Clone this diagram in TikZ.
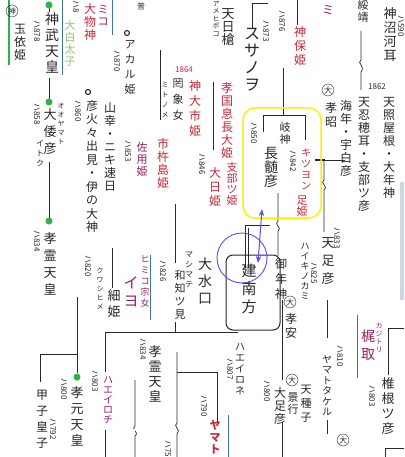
\documentclass[tikz,border=0pt]{standalone}
\usepackage{fontspec}
\setmainfont{Noto Sans CJK JP}
\usetikzlibrary{arrows.meta}
\definecolor{ink}{RGB}{40,40,45}
\definecolor{redink}{RGB}{200,40,60}
\definecolor{magink}{RGB}{150,30,100}
\definecolor{grn}{RGB}{45,180,70}
\definecolor{lgrn}{RGB}{140,200,110}
\definecolor{blu}{RGB}{80,80,255}
\definecolor{tealc}{RGB}{60,120,150}
\definecolor{yel}{RGB}{255,240,0}
\definecolor{strip}{RGB}{205,215,228}
\makeatletter
\newcommand\vt[3]{{\fontsize{#1}{#2}\selectfont\vbox{\baselineskip=#2pt\lineskiplimit=-\maxdimen\@tfor\vt@c:=#3\do{\hbox to #1pt{\hss\vt@c\hss}}}}}
\makeatother
\tikzset{
 ln/.style={draw=ink, line width=0.7pt},
 dbl/.style={draw=ink, double=white, double distance=1.1pt, line width=0.5pt},
 vtx/.style={anchor=north, inner sep=0pt, text=ink},
 num/.style={rotate=-90, anchor=west, inner sep=0pt, font=\fontsize{8}{8}\selectfont, text=ink},
 gdot/.style={circle, fill=grn, inner sep=0pt, minimum size=7pt},
 ring/.style={circle, draw=ink, line width=1.1pt, inner sep=0pt, minimum size=5pt},
 circ/.style={circle, draw=ink, inner sep=0.4pt, font=\fontsize{8}{8}\selectfont, text=ink},
}
\begin{document}
\begin{tikzpicture}[x=1pt,y=-1pt]
\useasboundingbox (0,0) rectangle (404,457);
\fill[white] (0,0) rectangle (404,457);
\fill[strip] (400,182) rectangle (404,300);

% ---------- coloured lines ----------
\draw[grn, line width=1.6pt] (9,0) -- (9,65);
\draw[tealc, line width=1pt] (62,0) -- (62,75);
\draw[tealc, line width=1pt] (112,0) -- (112,35);
\draw[tealc, line width=1pt] (150,255) -- (150,320);
\draw[tealc, line width=1pt] (228,415) -- (228,457);
\draw[tealc, line width=1pt] (357,315) -- (357,378);

% ---------- black lines ----------
\draw[ln] (49,8) -- (49,12);
\draw[ln] (49,78) -- (49,100);
\draw[ln] (49,162) -- (49,218);
\draw[dbl] (55,297) -- (104,297);
\draw[ln] (77,297) -- (77,373);
\draw[ln] (77,354) -- (40,354) -- (40,382);
\draw[ln] (105,372) -- (105,332) -- (238,332);
\draw[dbl] (117,380) -- (140,380);
\draw[ln] (135,380) -- (135,426) .. controls (130,429) and (140,432) .. (135,436) -- (135,457);
\draw[dbl] (87,430) -- (215,430);
\draw[ln] (105,430) -- (105,457);
\draw[dbl] (163,352) -- (230,352);
\draw[ln] (177,352) -- (177,423) .. controls (172,426) and (182,430) .. (177,434) -- (177,457);
\draw[ln] (177,372) -- (217,372) -- (217,425);
\draw[dbl] (112,248) -- (245,248);
\draw[ln] (112,248) -- (112,288);
\draw[ln] (175,203) -- (175,263);
\draw[ln] (175,322) -- (175,332);
\draw[dbl] (98,203) -- (205,203);
\draw[dbl] (198,82) -- (245,82);
\draw[ln] (213,82) -- (213,150);
\draw[dbl] (137,48) -- (240,48);
\draw[ln] (160,50) -- (160,120);
\draw[ln] (252,28) -- (252,3) -- (268,3);
\draw[dbl] (258,68) -- (404,68);
\draw[ln] (283,68) -- (283,115);
\draw[ln] (263,132) -- (263,115) -- (305,115) -- (305,140);
\draw[ln] (297,0) -- (297,25);
\draw[dbl] (308,31) -- (380,31);
\draw[ln] (361,31) -- (361,60) .. controls (356,63) and (366,66) .. (361,72) -- (361,90);
\draw[dbl] (245,193) -- (353,193);
\draw[ln] (278,193) -- (278,221) .. controls (273,224) and (283,228) .. (278,231) -- (278,256);
\draw[ln] (324,160) -- (324,180) .. controls (319,183) and (329,186) .. (324,190) -- (324,232);
\draw[ln] (315,160) -- (345,160);
\draw[ink, line width=2pt] (315,160) -- (325,160);
\draw[ln] (270,225) -- (245,225) -- (245,268);
\draw[ln] (248,228) -- (248,268);
\draw[ln] (282,300) -- (282,380);
\draw[ln] (282,422) -- (282,457);
\draw[ln] (327,300) -- (327,338);
\draw[ln] (327,420) -- (327,434);
\draw[ln] (388,375) -- (388,328) -- (404,328);
\draw[ln] (385,457) -- (385,448) -- (404,448);

% ---------- boxes and marks ----------
\draw[yel, line width=1.5pt, rounded corners=12pt] (243,108) rectangle (321,218);
\draw[ink, line width=1pt, rounded corners=7pt] (226,255) rectangle (280,330);
\draw[blu, line width=0.9pt] (242,258) circle (25);
\draw[blu, line width=1pt, {Stealth[length=7pt]}-{Stealth[length=7pt]}] (262,209) -- (258,263);

% ---------- green dots and rings ----------
\node[gdot] (d1) at (49,5) {};
\node[gdot] (d2) at (49,102) {};
\node[gdot] (d3) at (49,221) {};
\node[gdot] (d4) at (77,377) {};
\node[ring] (r1) at (127,33) {};
\node[ring] (r2) at (88,92) {};

% ---------- top left ----------
\node[circ] (c1) at (12,11) {神};
\node[vtx] (tamayori) at (20,24) {\vt{12}{13}{玉依姫}};
\node[vtx] (jinmu) at (52,13) {\vt{14}{16}{神武天皇}};
\node[num] (n878) at (37,20) {ハ878};
\node[vtx, text=lgrn] (ohshira) at (70,20) {\vt{11}{12}{大白太子}};
\node[num] (n8) at (76,0) {ハ8};
\node[vtx, text=redink] (omono) at (90,3) {\vt{12}{13}{大物神}};
\node[vtx, text=magink] (miko) at (103,5) {\vt{11}{12}{ミコ}};
\node[vtx] (fu) at (141,3) {\vt{8}{9}{普}};
\node[vtx] (akaru) at (130,40) {\vt{11}{15}{アカル姫}};
\node[num] (n870) at (117,50) {ハ870};
\node[num] (n860) at (78,100) {ハ860};
\node[vtx] (hiko) at (92,100) {\vt{12}{13.5}{彦火々出見・伊の大神}};
\node[vtx] (yama) at (110,102) {\vt{12}{13}{山幸・ニキ速日}};
\node[vtx] (yamato1) at (50,108) {\vt{13}{17}{大倭彦}};
\node[vtx] (oyamato) at (61,103) {\vt{7}{9}{オオヤマト}};
\node[num] (n858) at (37,103) {ハ858};
\node[vtx] (itoku) at (40,140) {\vt{8}{10}{イトク}};
\node[num] (n834a) at (37,230) {ハ834};
\node[vtx] (korei1) at (50,232) {\vt{13}{17}{孝霊天皇}};

% ---------- upper middle ----------
\node[vtx] (mitonome) at (165,82) {\vt{7}{10}{ミトノメ}};
\node[font=\fontsize{8}{8}\selectfont, text=redink, inner sep=0pt] (y1864) at (184,70) {1864};
\node[vtx] (mitsuha) at (178,79) {\vt{11}{16}{罔象女}};
\node[vtx, text=redink] (kamuo) at (195,80) {\vt{12}{15}{神大市姫}};
\node[vtx, text=redink] (kokoku) at (227,82) {\vt{12}{13}{孝国息長大姫}};
\node[vtx, text=redink] (shibe) at (232,162) {\vt{11}{11}{支部ツ姫}};
\node[num] (n846) at (202,153) {ハ846};
\node[vtx, text=redink] (ohhi) at (215,167) {\vt{12}{14}{大日姫}};
\node[vtx, text=redink] (ichiki) at (163,138) {\vt{12}{13}{市杵島姫}};
\node[vtx, text=magink] (sayo) at (142,142) {\vt{11}{12}{佐用姫}};
\node[num] (n853) at (128,140) {ハ853};
\node[vtx] (amenohi) at (228,8) {\vt{13}{13}{天日槍}};
\node[vtx] (amehiboko) at (216,1) {\vt{7}{7.5}{アメヒボコ}};
\node[vtx] (susa) at (252,28) {\vt{16}{17}{スサノヲ}};

% ---------- upper right ----------
\node[num] (n873) at (266,20) {ハ873};
\node[num] (n876) at (282,10) {ハ876};
\node[vtx, text=redink] (kamuho) at (300,26) {\vt{12}{14}{神保姫}};
\node[vtx, text=magink] (mi) at (328,5) {\vt{12}{12}{ミ}};
\node[vtx] (suizei) at (363,0) {\vt{11}{12}{綏靖}};
\node[vtx] (kamununa) at (390,7) {\vt{13}{14}{神沼河耳}};
\node[num] (n590) at (401,15) {ハ590};
\node[circ] (c2) at (328,90) {大};
\node[vtx] (kosho) at (331,102) {\vt{12}{14}{孝昭}};
\node[font=\fontsize{8}{8}\selectfont, inner sep=0pt, text=ink] (y1862) at (377,87) {1862};
\node[vtx] (umi) at (346,100) {\vt{12}{13}{海年・宇白彦}};
\node[vtx] (oshiho) at (364,97) {\vt{12}{13}{天忍穂耳・支部ツ彦}};
\node[vtx] (teru) at (389,97) {\vt{12}{13}{天照屋根・大年神}};

% ---------- inside yellow box ----------
\node[vtx] (funado) at (285,122) {\vt{11}{12}{岐神}};
\node[vtx] (nagasune) at (271,147) {\vt{14}{14}{長髄彦}};
\node[num] (n850) at (254,122) {ハ850};
\node[num] (n842) at (293,150) {ハ842};
\node[vtx, text=redink] (kitsuyon) at (306,148) {\vt{10}{11}{キツヨン}};
\node[vtx, text=redink] (ashi) at (302,196) {\vt{11}{11}{足姫}};

% ---------- middle right ----------
\node[num] (n833) at (337,227) {ハ833};
\node[vtx] (tarashi) at (328,237) {\vt{13}{18}{天足彦}};
\node[vtx] (haiki) at (305,243) {\vt{9}{10}{ハイキノカミ}};
\node[num] (n825) at (314,262) {ハ825};
\node[vtx] (mitoshi) at (281,258) {\vt{12}{15}{御年神}};
\node[circ] (c3) at (290,302) {大};
\node[vtx] (koan) at (291,313) {\vt{12}{14}{孝安}};
\node[vtx] (takemina) at (249,264) {\vt{15}{18}{建南方}};

% ---------- middle left ----------
\node[vtx, text=magink] (himiko) at (145,255) {\vt{9}{11}{ヒミコ宗女}};
\node[vtx, text=magink] (iyo) at (131,277) {\vt{15}{18}{イヨ}};
\node[vtx] (kuwashi) at (114,289) {\vt{13}{16}{細姫}};
\node[vtx] (kuwashik) at (100,268) {\vt{7}{9}{クワシヒメ}};
\node[num] (n820) at (88,255) {ハ820};
\node[vtx] (ominaku) at (205,258) {\vt{14}{17}{大水口}};
\node[vtx] (mashimate) at (189,252) {\vt{8}{10}{マシマテ}};
\node[num] (n826) at (163,260) {ハ826};
\node[vtx] (wachi) at (180,270) {\vt{11}{13}{和知ツ見}};

% ---------- lower ----------
\node[num] (n800a) at (64,378) {ハ800};
\node[vtx] (kogen) at (77,386) {\vt{13}{16}{孝元天皇}};
\node[vtx] (kine) at (42,390) {\vt{12}{16}{甲子皇子}};
\node[num] (n792) at (53,418) {ハ792};
\node[num] (n803a) at (95,370) {ハ803};
\node[vtx, text=magink] (haeirochi) at (108,376) {\vt{10}{10}{ハエイロチ}};
\node[num] (n834b) at (143,338) {ハ834};
\node[vtx] (korei2) at (155,345) {\vt{13}{15}{孝霊天皇}};
\node[vtx] (haeirone) at (240,343) {\vt{10}{11}{ハエイロネ}};
\node[num] (n807) at (230,358) {ハ807};
\node[num] (n790) at (204,395) {ハ790};
\node[vtx, text=redink, font=\bfseries] (yamato2) at (215,420) {\vt{11}{12}{ヤマト}};
\node[num] (n75) at (168,440) {ハ75};
\node[num] (n800b) at (267,380) {ハ800};
\node[vtx] (ohtarashi) at (280,387) {\vt{12}{13}{大足彦}};
\node[circ] (c4) at (292,380) {大};
\node[vtx] (keiko) at (293,392) {\vt{11}{12}{景行}};
\node[vtx] (tanego) at (306,385) {\vt{11}{14}{天種子}};
\node[num] (n810) at (340,345) {ハ810};
\node[vtx] (takeru) at (327,355) {\vt{10}{10.5}{ヤマトタケル}};
\node[vtx, text=magink] (kajitori) at (368,330) {\vt{14}{18}{梶取}};
\node[vtx, text=magink] (kajik) at (379,323) {\vt{7}{8}{カジトリ}};
\node[vtx] (shiine) at (388,377) {\vt{13}{15}{椎根ツ彦}};
\node[num] (n803b) at (372,385) {ハ803};
\node[circ] (c5) at (343,440) {大};
\end{tikzpicture}
\end{document}
